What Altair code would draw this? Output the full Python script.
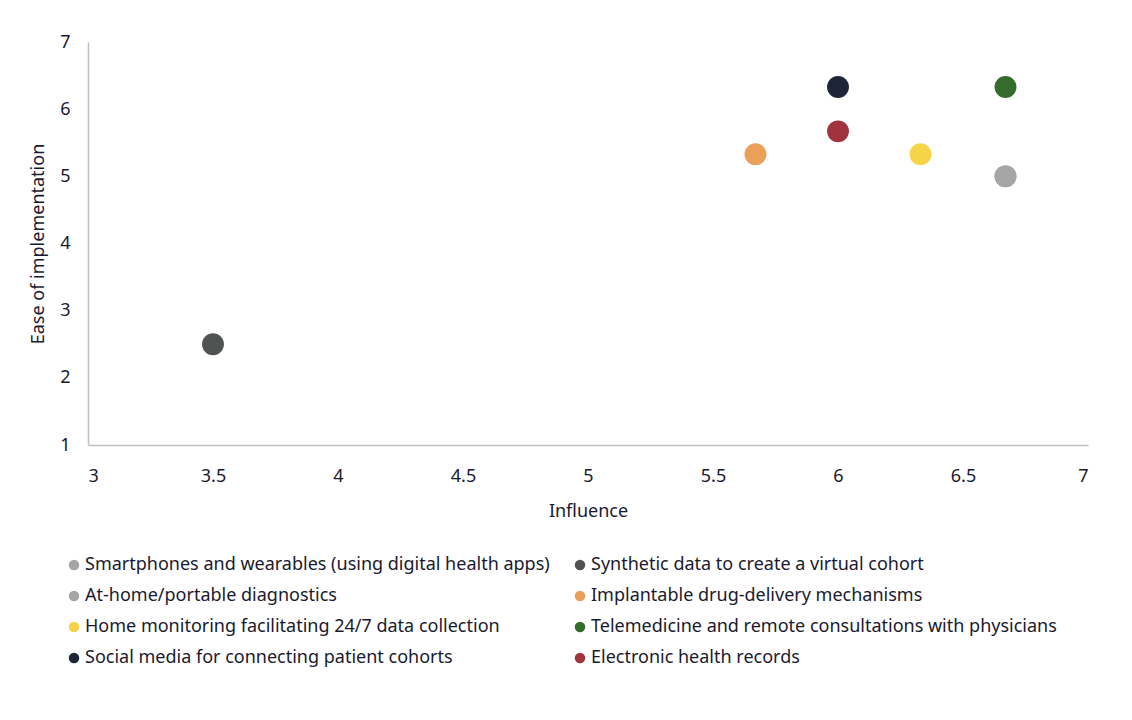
import altair as alt
import pandas as pd

categories = [
    "Smartphones and wearables (using digital health apps)",
    "At-home/portable diagnostics",
    "Home monitoring facilitating 24/7 data collection",
    "Social media for connecting patient cohorts",
    "Synthetic data to create a virtual cohort",
    "Implantable drug-delivery mechanisms",
    "Telemedicine and remote consultations with physicians",
    "Electronic health records",
]
influence = [6.67, 6.67, 6.33, 6.0, 3.5, 5.67, 6.67, 6.0]
ease = [5.0, 5.0, 5.33, 6.33, 2.5, 5.33, 6.33, 5.67]
colors = ["#a5a5a5", "#a5a5a5", "#f5d547", "#1e2538", "#505352", "#eba05a", "#356b2c", "#a0343e"]

df = pd.DataFrame({"Technology": categories, "Influence": influence, "Ease": ease})

FONT = "Noto Sans"
TXT = "#1a1a2e"

chart = alt.Chart(df).mark_circle(size=480, opacity=1).encode(
    x=alt.X("Influence:Q", scale=alt.Scale(domain=[3, 7], nice=False, zero=False),
            axis=alt.Axis(title="Influence", values=[3, 3.5, 4, 4.5, 5, 5.5, 6, 6.5, 7],
                          labelExpr="datum.value + ''",
                          grid=False, ticks=False, domainColor="#bfbfbf", domainWidth=1.5,
                          labelPadding=22, titlePadding=17, labelFontSize=18, titleFontSize=18,
                          labelColor=TXT, titleColor=TXT, titleFontWeight="normal",
                          labelFont=FONT, titleFont=FONT)),
    y=alt.Y("Ease:Q", scale=alt.Scale(domain=[1, 7], nice=False, zero=False),
            axis=alt.Axis(title="Ease of implementation", values=[1, 2, 3, 4, 5, 6, 7],
                          grid=False, ticks=False, domainColor="#bfbfbf", domainWidth=1.5,
                          labelPadding=18, titlePadding=12, labelFontSize=18, titleFontSize=18,
                          labelColor=TXT, titleColor=TXT, titleFontWeight="normal",
                          labelFont=FONT, titleFont=FONT)),
    color=alt.Color("Technology:N", scale=alt.Scale(domain=categories, range=colors),
                    legend=alt.Legend(title=None, orient="none", legendX=-23, legendY=514,
                                      columns=2, columnPadding=21, rowPadding=13,
                                      symbolType="circle", symbolSize=110, symbolOpacity=1,
                                      labelFontSize=18, labelFont=FONT, labelColor=TXT,
                                      labelLimit=600, symbolStrokeWidth=0, labelOffset=2)),
).properties(
    width=1000, height=403,
    autosize=alt.AutoSizeParams(type="none"),
    padding={"left": 80, "top": 34, "right": 36, "bottom": 270},
).configure(font=FONT, background="white").configure_view(strokeWidth=0)

chart.save("out.html", embed_options={"renderer": "svg", "actions": False})
